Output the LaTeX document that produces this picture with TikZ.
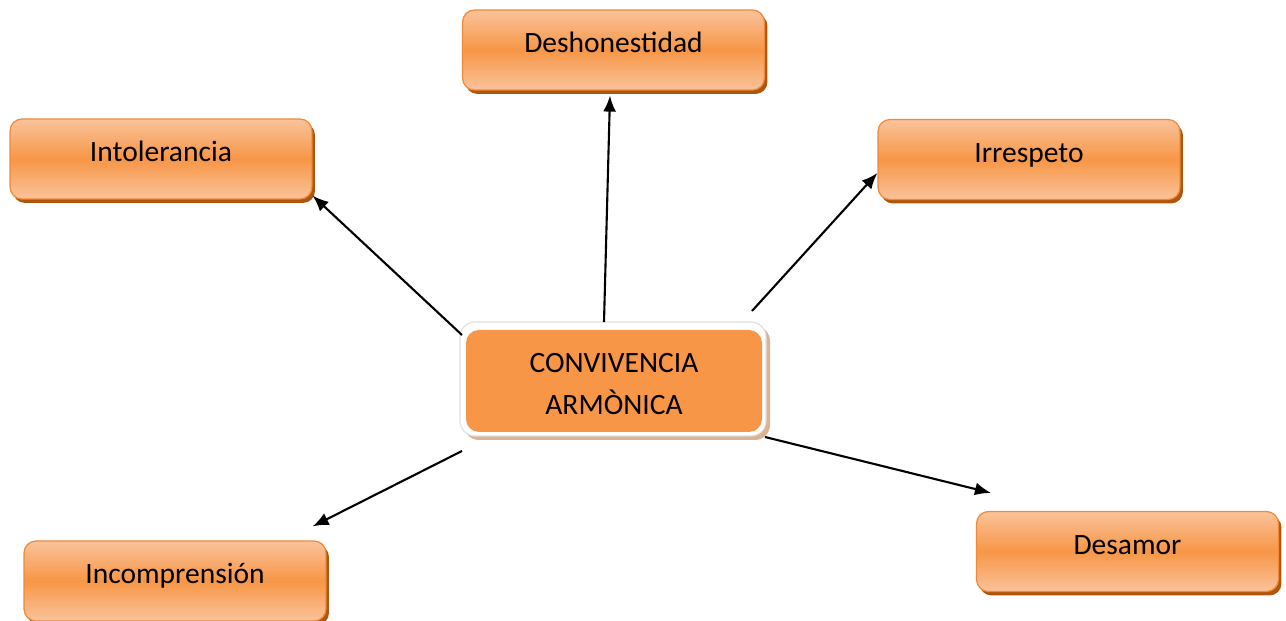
\documentclass[tikz,border=0pt]{standalone}
\usepackage{fontspec}
\setmainfont{Carlito}
\usetikzlibrary{shadows,arrows.meta}

\definecolor{naranja}{HTML}{F79646}
\definecolor{naranjaclaro}{HTML}{FAC39B}
\definecolor{bordenaranja}{HTML}{F0893A}
\definecolor{sombra}{HTML}{B0560C}
\definecolor{sombracentro}{HTML}{DDB290}

\tikzset{
  caja/.style={rectangle, rounded corners=0.24cm, draw=bordenaranja, line width=0.7pt,
    top color=naranjaclaro, bottom color=naranjaclaro, middle color=naranja,
    minimum width=6.04cm, minimum height=1.6cm, text height=0.5cm, text depth=0.38cm,
    font=\fontsize{16.8}{24}\selectfont,
    general shadow={fill=sombra, shadow xshift=0.06cm, shadow yshift=-0.08cm}},
  flecha/.style={-{Latex[length=0.32cm,width=0.26cm]}, line width=1.2pt, black}
}

\begin{document}
\begin{tikzpicture}[x=0.02cm, y=-0.02cm]

    \useasboundingbox (0,0) rectangle (1286,621);

    % marco del centro
    \fill[sombracentro, rounded corners=0.3cm] (464,326) rectangle (770,440);
    \draw[fill=white, draw=black!12, line width=0.6pt, rounded corners=0.3cm] (460,322) rectangle (766,436);
    \fill[naranja, rounded corners=0.26cm] (466,330) rectangle (762,432);

    \node[align=center, font=\fontsize{16.8}{24}\selectfont] (centro) at (614,384)
      {CONVIVENCIA\\ARMÒNICA};

    \node[caja] (deshonestidad) at (613.5,50) {Deshonestidad};
    \node[caja] (intolerancia) at (161,159) {Intolerancia};
    \node[caja] (irrespeto) at (1029,159.5) {Irrespeto};
    \node[caja] (incomprension) at (175,581) {Incomprensión};
    \node[caja] (desamor) at (1127.5,551.5) {Desamor};

    \coordinate (s1) at (604,322);
    \coordinate (s2) at (462,335);
    \coordinate (s3) at (752,311);
    \coordinate (s4) at (462,451);
    \coordinate (s5) at (765,437);

    \draw[flecha] (s1) -- ([shift={(-0.07cm,-0.1cm)}]deshonestidad.south);
    \draw[flecha] (s2) -- ([shift={(0cm,0.08cm)}]intolerancia.south east);
    \draw[flecha] (s3) -- ([yshift=-0.27cm]irrespeto.west);
    \draw[flecha] (s4) -- ([shift={(-0.28cm,0.28cm)}]incomprension.north east);
    \draw[flecha] (s5) -- ([shift={(0.3cm,0.36cm)}]desamor.north west);

\end{tikzpicture}
\end{document}
